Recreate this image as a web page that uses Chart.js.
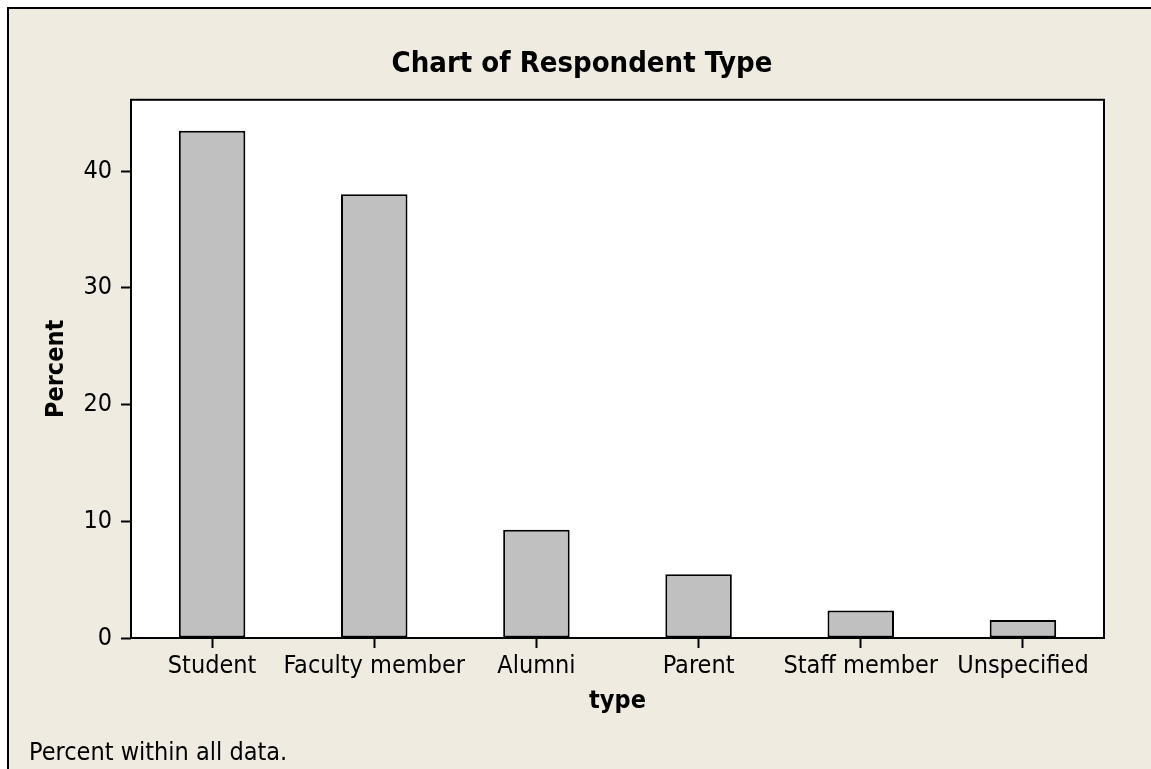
<!DOCTYPE html>
<html lang="en">
<head>
  <meta charset="UTF-8">
  <title>Chart of Respondent Type</title>
  <style>
    html, body {
      margin: 0;
      width: 1151px;
      height: 769px;
      background: #fff;
      overflow: hidden;
    }

    /* beige frame with the black edge at top and left */
    .frame {
      position: absolute;
      left: 7px;
      top: 7px;
      right: 0;
      bottom: 0;
      border-left: 2px solid #000;
      border-top: 2px solid #000;
      background: #efebe0;
    }

    .chart-box {
      position: relative;
      width: 1126px;
      height: 760px;
    }
  </style>
</head>
<body>
  <div class="frame">
    <div class="chart-box">
      <canvas id="typeChart"></canvas>
    </div>
  </div>

  <script src="https://cdn.jsdelivr.net/npm/chart.js"></script>
  <script>
    // data
    const types = ['Student', 'Faculty member', 'Alumni', 'Parent', 'Staff member', 'Unspecified'];
    const percents = [43.45, 38.0, 9.28, 5.47, 2.36, 1.55];
    const yTicks = [0, 10, 20, 30, 40];

    const FONT = "'DejaVu Sans Condensed', 'DejaVu Sans', sans-serif";

    // white plot area and black box around it
    const plotFrame = {
      id: 'plotFrame',
      beforeDraw(chart) {
        const { ctx, chartArea: a } = chart;
        ctx.save();
        ctx.fillStyle = '#fff';
        ctx.fillRect(a.left, a.top, a.right - a.left, a.bottom - a.top);
        ctx.restore();
      },
      afterDatasetsDraw(chart) {
        const { ctx, chartArea: a } = chart;
        ctx.save();
        ctx.strokeStyle = '#000';
        ctx.lineWidth = 2;
        ctx.strokeRect(a.left, a.top, a.right - a.left, a.bottom - a.top);
        ctx.restore();
      }
    };

    const ctx = document.getElementById('typeChart').getContext('2d');

    new Chart(ctx, {
      type: 'bar',
      data: {
        labels: types,
        datasets: [{
          data: percents,
          backgroundColor: '#c0c0c0',
          borderColor: '#000',
          borderWidth: 2,
          borderSkipped: false,
          barPercentage: 0.41,
          categoryPercentage: 1
        }]
      },
      options: {
        responsive: true,
        maintainAspectRatio: false,
        animation: false,
        layout: { padding: { left: 20, right: 0, top: 0, bottom: 0 } },
        plugins: {
          legend: { display: false },
          tooltip: { enabled: false },
          title: {
            display: true,
            text: 'Chart of Respondent Type',
            color: '#000',
            font: { family: FONT, size: 29, weight: 'bold' },
            padding: { top: 38, bottom: 18 }
          },
          subtitle: {
            display: true,
            text: 'Percent within all data.',
            position: 'bottom',
            align: 'start',
            color: '#000',
            font: { family: FONT, size: 25, weight: 'normal' },
            padding: { top: 15, bottom: 1 }
          }
        },
        scales: {
          x: {
            grid: {
              display: true,
              drawOnChartArea: false,
              drawTicks: true,
              offset: false,
              tickLength: 10,
              tickColor: '#000',
              tickWidth: 2
            },
            border: { display: false },
            ticks: {
              color: '#000',
              padding: 3,
              maxRotation: 0,
              autoSkip: false,
              font: { family: FONT, size: 25 }
            },
            title: {
              display: true,
              text: 'type',
              color: '#000',
              font: { family: FONT, size: 25, weight: 'bold' },
              padding: { top: 0, bottom: 7 }
            },
            afterFit(scale) { scale.height = 85; }
          },
          y: {
            min: 0,
            max: 46.1,
            grid: {
              display: true,
              drawOnChartArea: false,
              drawTicks: true,
              tickLength: 10,
              tickColor: '#000',
              tickWidth: 2
            },
            border: { display: false },
            ticks: {
              color: '#000',
              padding: 9,
              font: { family: FONT, size: 25 }
            },
            afterBuildTicks(scale) {
              scale.ticks = yTicks.map(v => ({ value: v }));
            },
            title: {
              display: true,
              text: 'Percent',
              color: '#000',
              font: { family: FONT, size: 25, weight: 'bold' },
              padding: { top: 12, bottom: 0 }
            },
            afterFit(scale) { scale.width = 102; }
          },
          // empty right axis, only keeps the gap right of the plot
          yRight: {
            type: 'linear',
            position: 'right',
            display: true,
            grid: { display: false },
            border: { display: false },
            ticks: { display: false },
            afterFit(scale) { scale.width = 31; }
          }
        }
      },
      plugins: [plotFrame]
    });
  </script>
</body>
</html>
